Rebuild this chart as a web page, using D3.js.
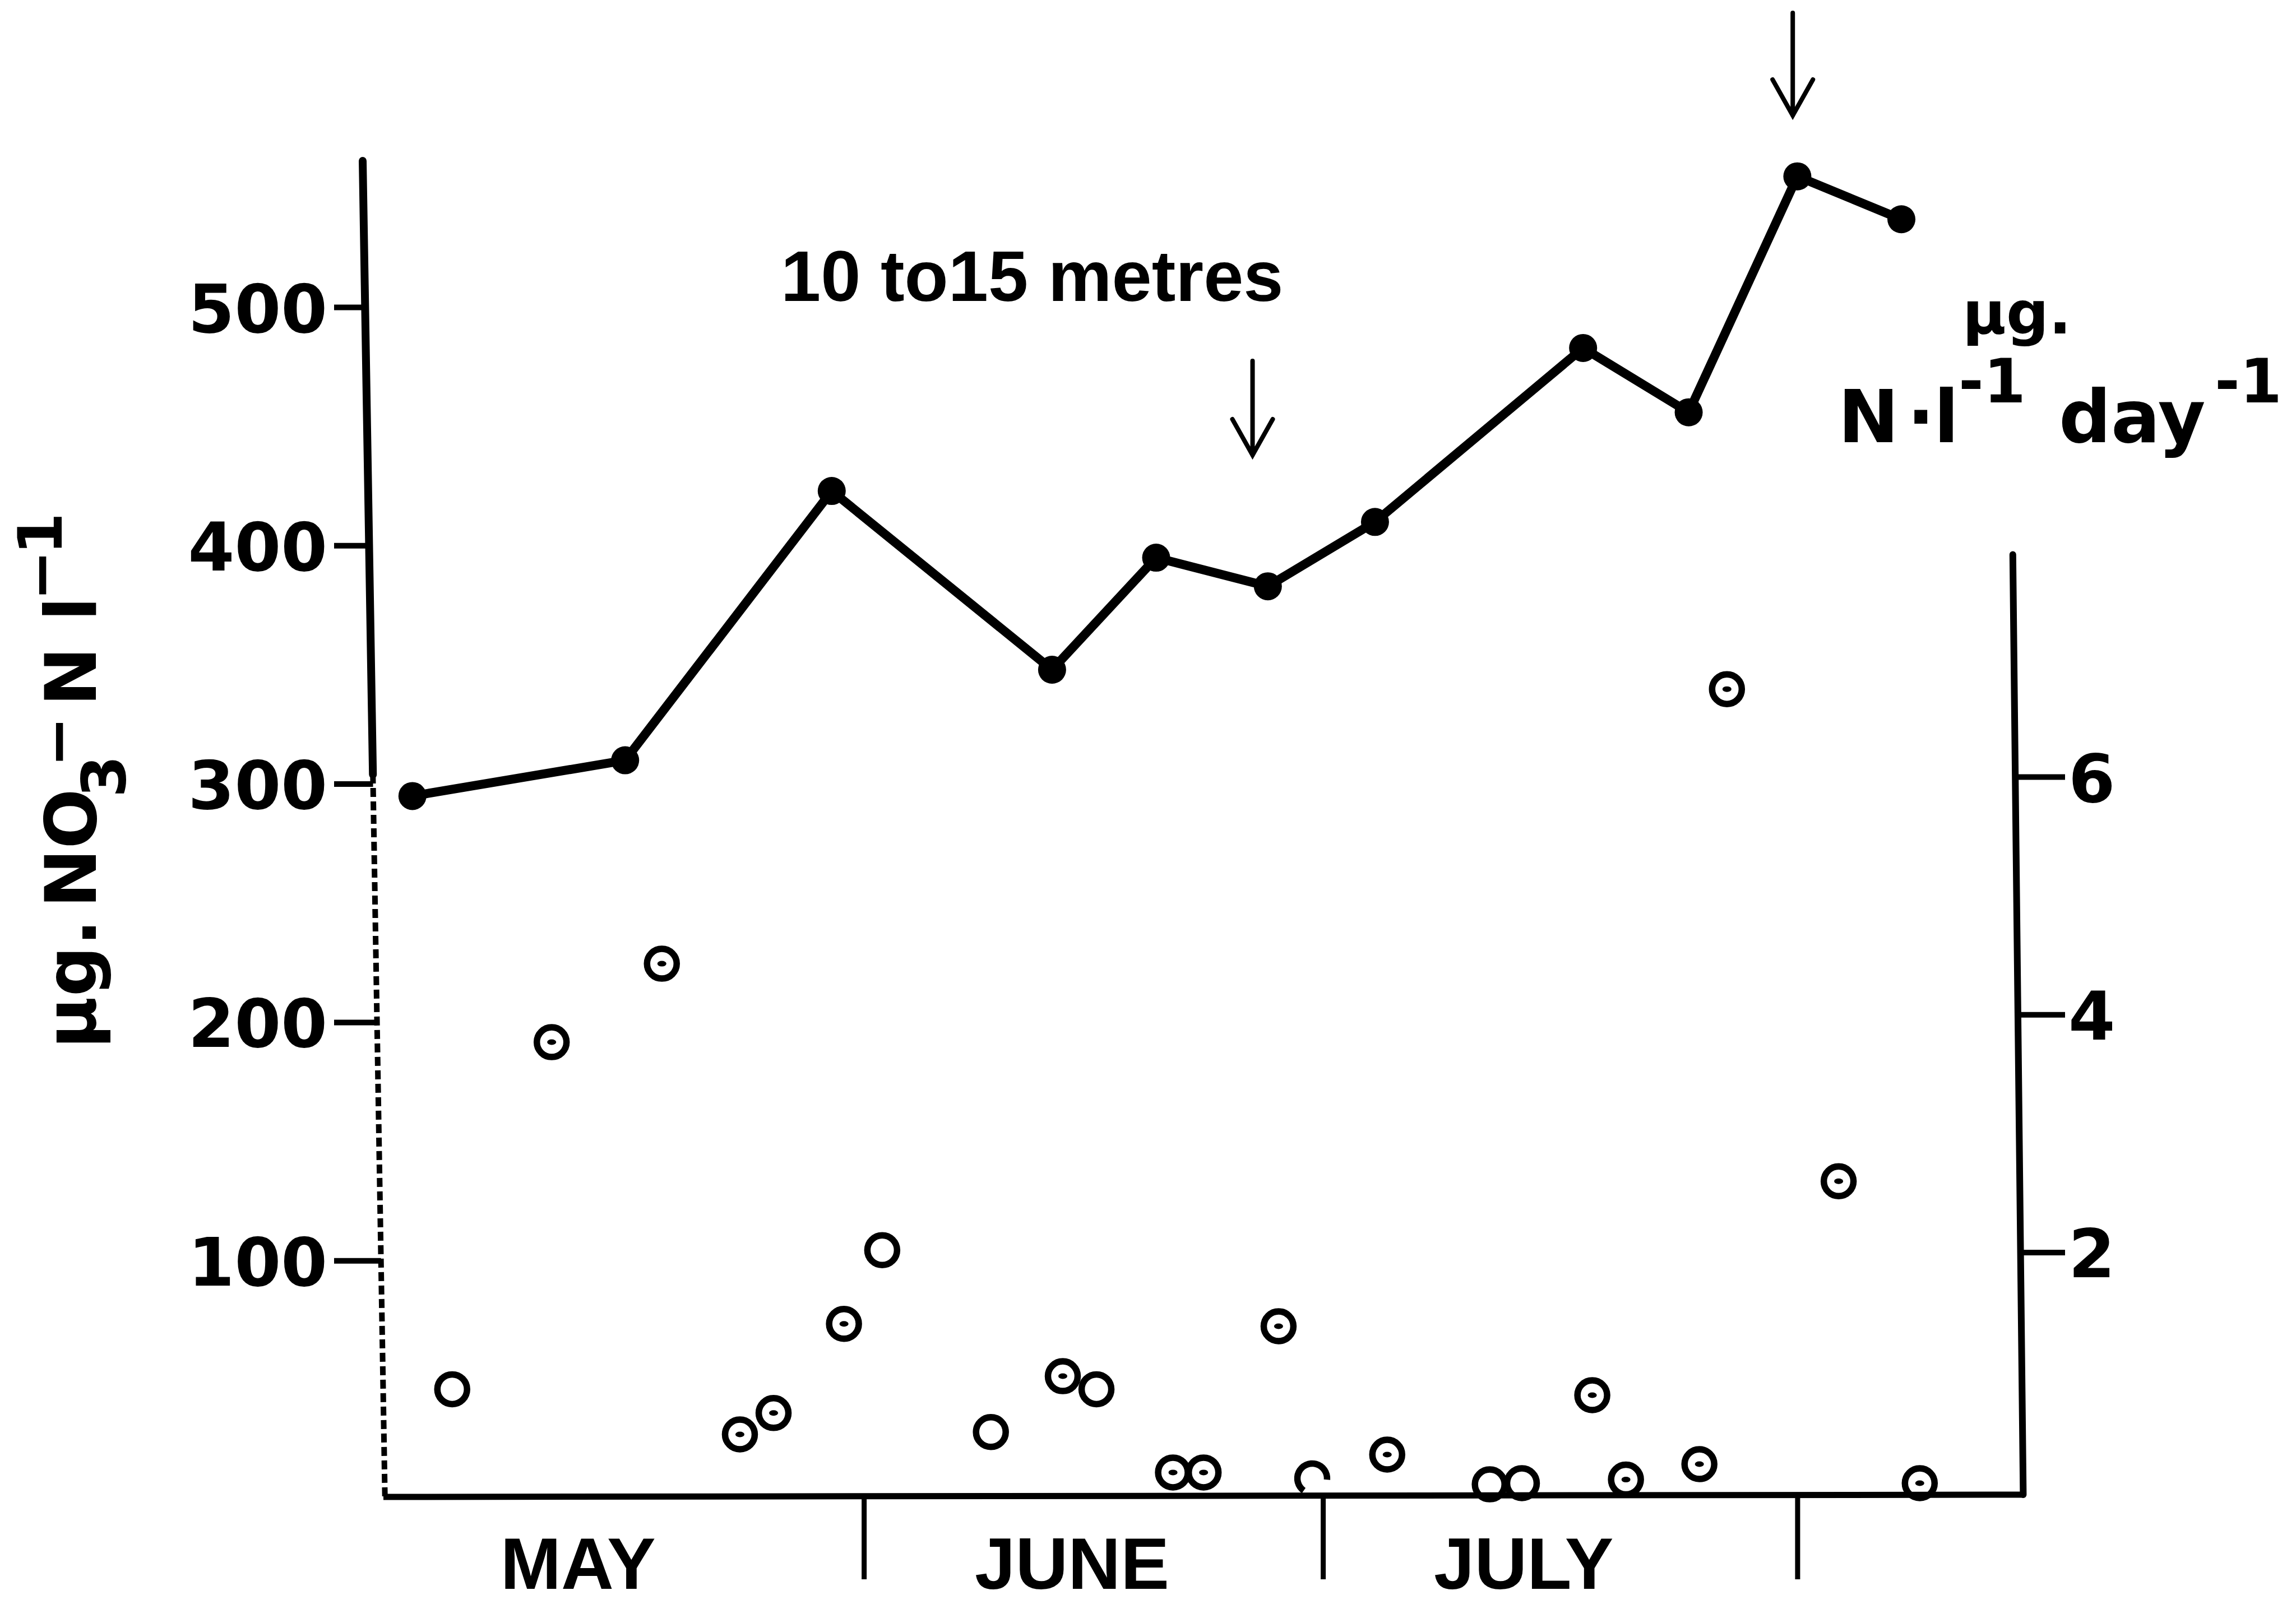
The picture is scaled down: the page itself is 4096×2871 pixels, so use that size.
<!DOCTYPE html>
<html><head><meta charset="utf-8">
<script src="https://cdn.jsdelivr.net/npm/d3@7"></script>
<style>body{margin:0;background:#fff}svg{display:block}</style>
</head><body>
<svg id="chart" width="4096" height="2871"></svg>
<script>
// ---- data (x in days after 1 May) ----
const nitrateDays   = [1.5, 15.4, 28.9, 43.3, 50.1, 57.4, 64.4, 78.0, 84.9, 92.0, 98.8];
const nitrateValues = [295, 310, 423, 348, 395, 383, 410, 483, 456, 555, 537];

const rateDays   = [4.1, 10.6, 17.8, 22.9, 25.1, 29.7, 32.2, 39.3, 44.0, 46.2, 51.2, 53.2,
                    58.1, 60.3, 65.2, 71.9, 74.0, 78.6, 80.8, 85.6, 87.4, 94.7, 100.0];
const rateValues = [0.85, 3.77, 4.43, 0.47, 0.65, 1.40, 2.02, 0.49, 0.96, 0.85, 0.15, 0.15,
                    1.38, 0.10, 0.30, 0.05, 0.06, 0.80, 0.09, 0.22, 6.74, 2.60, 0.06];
const rateMarkers = ["plain","dot","dot","dot","dot","dot","plain","plain","dot","plain","dot","dot",
                     "dot","partial","dot","plain","plain","dot","dot","dot","dot","dot","dot"];

const leftTicks  = [100, 200, 300, 400, 500];
const rightTicks = [2, 4, 6];
const monthNames  = ["MAY", "JUNE", "JULY"];
const monthStarts = [0, 31, 61];
const monthBounds = [31, 61, 92];
const arrowDays   = [56.4, 91.7];
const annotation  = "10 to15 metres";

// ---- scales ----
const x  = d3.scaleLinear().domain([0, 92]).range([694.8, 3206.4]);
const yL = d3.scaleLinear().domain([0, 500]).range([2674.9, 548.6]);
const yR = d3.scaleLinear().domain([0, 6]).range([2659.2, 1386.6]);

const svg = d3.select("#chart");
const ink = "#000";
const wide = "'DejaVu Sans', sans-serif";
const helv = "'Liberation Sans', Arial, sans-serif";

// tilted hand-drawn axes
const leftAxisX  = d3.scaleLinear().domain([287, 2659]).range([647, 686.5]);
const rightAxisX = d3.scaleLinear().domain([989.5, 2658]).range([3590.8, 3609.3]);

// left axis: solid upper part, dotted lower part
svg.append("line").attr("x1", leftAxisX(287)).attr("y1", 287)
  .attr("x2", leftAxisX(1382)).attr("y2", 1382)
  .attr("stroke", ink).attr("stroke-width", 14).attr("stroke-linecap", "round");
svg.append("line").attr("x1", leftAxisX(1382)).attr("y1", 1382)
  .attr("x2", leftAxisX(2671)).attr("y2", 2671)
  .attr("stroke", ink).attr("stroke-width", 10).attr("stroke-dasharray", "16,8");

// right axis
svg.append("line").attr("x1", rightAxisX(989.5)).attr("y1", 989.5)
  .attr("x2", rightAxisX(2667)).attr("y2", 2667)
  .attr("stroke", ink).attr("stroke-width", 12).attr("stroke-linecap", "round");

// x axis baseline
svg.append("line").attr("x1", 684).attr("y1", 2671).attr("x2", 3610).attr("y2", 2667)
  .attr("stroke", ink).attr("stroke-width", 11);

// left ticks
svg.selectAll("line.lt").data(leftTicks).join("line").attr("class", "lt")
  .attr("x1", 596).attr("x2", d => leftAxisX(yL(d)))
  .attr("y1", d => yL(d)).attr("y2", d => yL(d))
  .attr("stroke", ink).attr("stroke-width", 10);
// right ticks
svg.selectAll("line.rt").data(rightTicks).join("line").attr("class", "rt")
  .attr("x1", d => rightAxisX(yR(d))).attr("x2", 3684)
  .attr("y1", d => yR(d)).attr("y2", d => yR(d))
  .attr("stroke", ink).attr("stroke-width", 10);

// tick labels via d3 axes
const gL = svg.append("g").attr("transform", "translate(584,0)")
  .call(d3.axisLeft(yL).tickValues(leftTicks).tickFormat(d3.format("d")).tickSize(0).tickPadding(0));
gL.select(".domain").remove();
gL.selectAll("text").attr("dy", "0.365em")
  .style("font-family", wide).style("font-weight", "bold").style("font-size", "119px").attr("fill", ink);

const gR = svg.append("g").attr("transform", "translate(3690,0)")
  .call(d3.axisRight(yR).tickValues(rightTicks).tickFormat(d3.format("d")).tickSize(0).tickPadding(0));
gR.select(".domain").remove();
gR.selectAll("text").attr("dy", "0.365em")
  .style("font-family", wide).style("font-weight", "bold").style("font-size", "120px").attr("fill", ink);

// month separators via bottom axis
const gX = svg.append("g").attr("transform", "translate(0,2671)")
  .call(d3.axisBottom(x).tickValues(monthBounds).tickSize(147).tickFormat(""));
gX.select(".domain").remove();
gX.selectAll("line").attr("stroke", ink).attr("stroke-width", 9);

// month labels
svg.selectAll("text.month").data(monthNames).join("text").attr("class", "month")
  .attr("x", (d, i) => x(monthStarts[i]) + 198).attr("y", 2835)
  .style("font-family", helv).style("font-weight", "bold").style("font-size", "130px")
  .attr("fill", ink).text(d => d);

// nitrate line + filled dots
const nitrate = nitrateDays.map((d, i) => ({d, v: nitrateValues[i]}));
svg.append("path").datum(nitrate)
  .attr("d", d3.line().x(p => x(p.d)).y(p => yL(p.v)))
  .attr("fill", "none").attr("stroke", ink).attr("stroke-width", 16)
  .attr("stroke-linejoin", "round");
svg.selectAll("circle.n").data(nitrate).join("circle").attr("class", "n")
  .attr("cx", p => x(p.d)).attr("cy", p => yL(p.v)).attr("r", 25).attr("fill", ink);

// rate open circles
const rates = rateDays.map((d, i) => ({d, v: rateValues[i], m: rateMarkers[i]}));
const R = 26.5, SW = 11.5;
svg.selectAll("circle.r").data(rates.filter(p => p.m !== "partial")).join("circle").attr("class", "r")
  .attr("cx", p => x(p.d)).attr("cy", p => yR(p.v)).attr("r", R)
  .attr("fill", "none").attr("stroke", ink).attr("stroke-width", SW);
svg.selectAll("ellipse.c").data(rates.filter(p => p.m === "dot")).join("ellipse").attr("class", "c")
  .attr("cx", p => x(p.d)).attr("cy", p => yR(p.v)).attr("rx", 8).attr("ry", 5).attr("fill", ink);
const arcGen = d3.arc().innerRadius(R - SW / 2).outerRadius(R + SW / 2)
  .startAngle(215 * Math.PI / 180).endAngle(455 * Math.PI / 180);
svg.selectAll("path.partial").data(rates.filter(p => p.m === "partial")).join("path").attr("class", "partial")
  .attr("transform", p => `translate(${x(p.d)},${yR(p.v)})`).attr("d", arcGen()).attr("fill", ink);

// arrows
const arrowGeom = [{top: 644, tip: 812}, {top: 23, tip: 206}];
arrowDays.forEach((d, i) => {
  const ax = x(d), g = arrowGeom[i];
  svg.append("path")
    .attr("d", `M${ax},${g.top}L${ax},${g.tip}M${ax - 36},${g.tip - 64}L${ax},${g.tip}L${ax + 36},${g.tip - 64}`)
    .attr("fill", "none").attr("stroke", ink).attr("stroke-width", 8).attr("stroke-linecap", "round");
});

// annotation
svg.append("text").attr("x", 1393).attr("y", 537)
  .style("font-family", helv).style("font-weight", "bold").style("font-size", "128px")
  .attr("fill", ink).text(annotation);

// left axis title (rotated)
const lt = svg.append("text").attr("transform", "translate(171,1871) rotate(-90)")
  .style("font-family", wide).style("font-weight", "bold").attr("fill", ink);
[
  {t: "µg.", x: 0,   y: 0,   fs: 126},
  {t: "NO",  x: 251, y: 0,   fs: 126},
  {t: "3",   x: 448, y: 52,  fs: 108},
  {t: "−",   x: 502, y: -31, fs: 108},
  {t: "N",   x: 611, y: 0,   fs: 126},
  {t: "l",   x: 763, y: 0,   fs: 126},
  {t: "−",   x: 799, y: -61, fs: 108},
  {t: "1",   x: 881, y: -61, fs: 108}
].forEach(p => lt.append("tspan").attr("x", p.x).attr("y", p.y).style("font-size", p.fs + "px").text(p.t));

// right axis title
const rt = svg.append("text").style("font-family", wide).style("font-weight", "bold").attr("fill", ink);
[
  {t: "µg.", x: 3501, y: 595, fs: 106},
  {t: "N",   x: 3279, y: 789, fs: 130},
  {t: "·",   x: 3402, y: 789, fs: 130},
  {t: "l",   x: 3450, y: 789, fs: 130},
  {t: "-1",  x: 3494, y: 718, fs: 108},
  {t: "day", x: 3673, y: 789, fs: 130},
  {t: "-1",  x: 3951, y: 718, fs: 108}
].forEach(p => rt.append("tspan").attr("x", p.x).attr("y", p.y).style("font-size", p.fs + "px").text(p.t));
</script>
</body></html>
